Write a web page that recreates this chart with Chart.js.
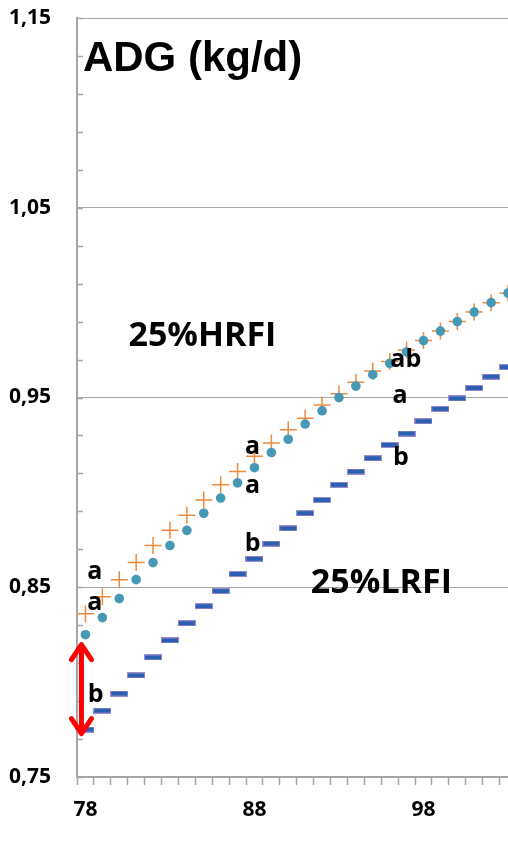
<!DOCTYPE html>
<html>
<head>
<meta charset="utf-8">
<script src="https://cdn.jsdelivr.net/npm/chart.js@4/dist/chart.umd.min.js"></script>
<style>
  body { margin: 0; background: #fff; }
  canvas { display: block; }
</style>
</head>
<body>
<canvas id="chart" width="508" height="864"></canvas>
<script>
// days on test
const days = [78, 79, 80, 81, 82, 83, 84, 85, 86, 87, 88, 89, 90, 91, 92, 93, 94, 95, 96, 97, 98, 99, 100, 101, 102, 103]

// ADG (kg/d)
const hrfiAdg = [0.836, 0.845, 0.854, 0.863, 0.872, 0.880, 0.888, 0.896, 0.904, 0.911, 0.919, 0.926, 0.933,
    0.939, 0.946, 0.952, 0.958, 0.964, 0.969, 0.975, 0.980, 0.985, 0.990, 0.995, 1.000, 1.005]
const midAdg = [0.825, 0.834, 0.844, 0.854, 0.863, 0.872, 0.880, 0.889, 0.897, 0.905, 0.913, 0.921, 0.928,
    0.936, 0.943, 0.950, 0.956, 0.962, 0.968, 0.974, 0.980, 0.985, 0.990, 0.995, 1.000, 1.005]
const lrfiAdg = [0.775, 0.785, 0.794, 0.8035, 0.813, 0.822, 0.831, 0.840, 0.848, 0.857, 0.865, 0.873, 0.881,
    0.889, 0.896, 0.904, 0.911, 0.918, 0.925, 0.931, 0.9375, 0.944, 0.9495, 0.955, 0.961, 0.966]

// axis ticks
const yTickValues = [0.75, 0.85, 0.95, 1.05, 1.15]
const yTickLabels = ['0,75', '0,85', '0,95', '1,05', '1,15']
const xTickLabels = ['78', '88', '98']

// letters of significance and group names
const noteText = ['a', 'a', 'b', 'a', 'a', 'b', 'ab', 'a', 'b']
const noteX = [78.56, 78.56, 78.6, 87.88, 87.88, 87.9, 96.95, 96.61, 96.66]
const noteY = [0.8544, 0.8379, 0.7896, 0.9204, 0.8996, 0.8691, 0.966, 0.9472, 0.9142]
const groupText = ['25%HRFI', '25%LRFI']
const groupX = [84.92, 95.51]
const groupY = [0.9774, 0.847]
const titleText = 'ADG (kg/d)'

const gridColor = '#a6a6a6'
const bold = '"Open Sans", "DejaVu Sans", sans-serif'

// blue dash marker with a thin lavender edge
const dash = document.createElement('canvas')
dash.width = 18
dash.height = 6
const dctx = dash.getContext('2d')
dctx.fillStyle = '#9a8cc8'
dctx.fillRect(0, 0, 18, 6)
dctx.fillStyle = '#2c5fb3'
dctx.fillRect(1, 1, 16, 4)

const toPoints = (vals) => vals.map((v, i) => ({ x: days[i], y: v }))

const overlay = {
    id: 'overlay',
    afterDatasetsDraw(chart) {
        const { ctx, chartArea, scales: { x, y } } = chart
        ctx.save()

        // small inner ticks on the value axis, every 0.02
        ctx.strokeStyle = gridColor
        ctx.lineWidth = 1.5
        for (let i = 0; i <= 20; i++) {
            const py = Math.round(y.getPixelForValue(0.75 + i * 0.02)) + 0.5
            ctx.beginPath()
            ctx.moveTo(chartArea.left, py)
            ctx.lineTo(chartArea.left + 6, py)
            ctx.stroke()
        }

        // red double arrow between the first points
        const ax = x.getPixelForValue(days[0]) - 4
        const top = y.getPixelForValue(midAdg[0]) + 10
        const bot = y.getPixelForValue(lrfiAdg[0]) + 4
        ctx.strokeStyle = '#ff0000'
        ctx.lineWidth = 5
        ctx.lineCap = 'round'
        ctx.lineJoin = 'round'
        ctx.beginPath()
        ctx.moveTo(ax, top + 2)
        ctx.lineTo(ax, bot - 2)
        ctx.moveTo(ax - 10, top + 15)
        ctx.lineTo(ax, top)
        ctx.lineTo(ax + 10, top + 15)
        ctx.moveTo(ax - 10, bot - 15)
        ctx.lineTo(ax, bot)
        ctx.lineTo(ax + 10, bot - 15)
        ctx.stroke()

        ctx.fillStyle = '#000'
        ctx.textBaseline = 'alphabetic'
        ctx.textAlign = 'center'
        ctx.font = 'bold 25px ' + bold
        noteText.forEach((t, i) => {
            ctx.fillText(t, x.getPixelForValue(noteX[i]), y.getPixelForValue(noteY[i]))
        })
        ctx.font = 'bold 34px ' + bold
        groupText.forEach((t, i) => {
            ctx.fillText(t, x.getPixelForValue(groupX[i]), y.getPixelForValue(groupY[i]))
        })
        ctx.textAlign = 'left'
        ctx.font = 'bold 42px "Liberation Sans", Arial, sans-serif'
        ctx.fillText(titleText, x.getPixelForValue(77.85), y.getPixelForValue(1.1221))
        ctx.restore()
    },
}

new Chart(document.getElementById('chart'), {
    type: 'scatter',
    data: {
        datasets: [
            {
                label: '25%LRFI',
                data: toPoints(lrfiAdg),
                pointStyle: dash,
            },
            {
                label: 'mid',
                data: toPoints(midAdg),
                pointStyle: 'circle',
                pointRadius: 4.8,
                pointBorderWidth: 0,
                backgroundColor: '#4699b5',
                borderColor: '#4699b5',
            },
            {
                label: '25%HRFI',
                data: toPoints(hrfiAdg),
                pointStyle: 'cross',
                pointRadius: 8.5,
                pointBorderWidth: 1.5,
                borderColor: '#ee8a3e',
                backgroundColor: '#ee8a3e',
            },
        ],
    },
    options: {
        responsive: false,
        animation: false,
        // the last points sit on the right edge of the picture
        layout: { autoPadding: false, padding: { top: 18, left: 0, right: 0, bottom: 0 } },
        plugins: {
            legend: { display: false },
            tooltip: { enabled: false },
        },
        scales: {
            x: {
                type: 'linear',
                min: 77.5,
                max: 103,
                afterBuildTicks: (s) => {
                    s.ticks = days.map((d) => ({ value: d - 0.5 }))
                },
                afterFit: (s) => {
                    s.height = 87
                    s.paddingLeft = 0
                    s.paddingRight = 0
                },
                grid: {
                    drawOnChartArea: false,
                    drawTicks: true,
                    tickLength: 8,
                    tickColor: gridColor,
                    tickWidth: 1.5,
                },
                border: { color: gridColor, width: 2 },
                ticks: {
                    autoSkip: false,
                    maxRotation: 0,
                    padding: 12,
                    labelOffset: 8.5,
                    color: '#000',
                    font: { family: bold, size: 21, weight: 'bold' },
                    callback: (v) => {
                        const lab = String(v + 0.5)
                        return xTickLabels.includes(lab) ? lab : ''
                    },
                },
            },
            y: {
                min: 0.75,
                max: 1.15,
                afterBuildTicks: (s) => {
                    s.ticks = yTickValues.map((v) => ({ value: v }))
                },
                afterFit: (s) => {
                    s.width = 77
                    s.paddingTop = 0
                    s.paddingBottom = 0
                },
                grid: { color: gridColor, lineWidth: 1, drawTicks: false },
                border: { color: gridColor, width: 2 },
                ticks: {
                    padding: 26,
                    color: '#000',
                    font: { family: bold, size: 21, weight: 'bold' },
                    callback: (v, i) => yTickLabels[i],
                },
            },
        },
    },
    plugins: [overlay],
})
</script>
</body>
</html>
